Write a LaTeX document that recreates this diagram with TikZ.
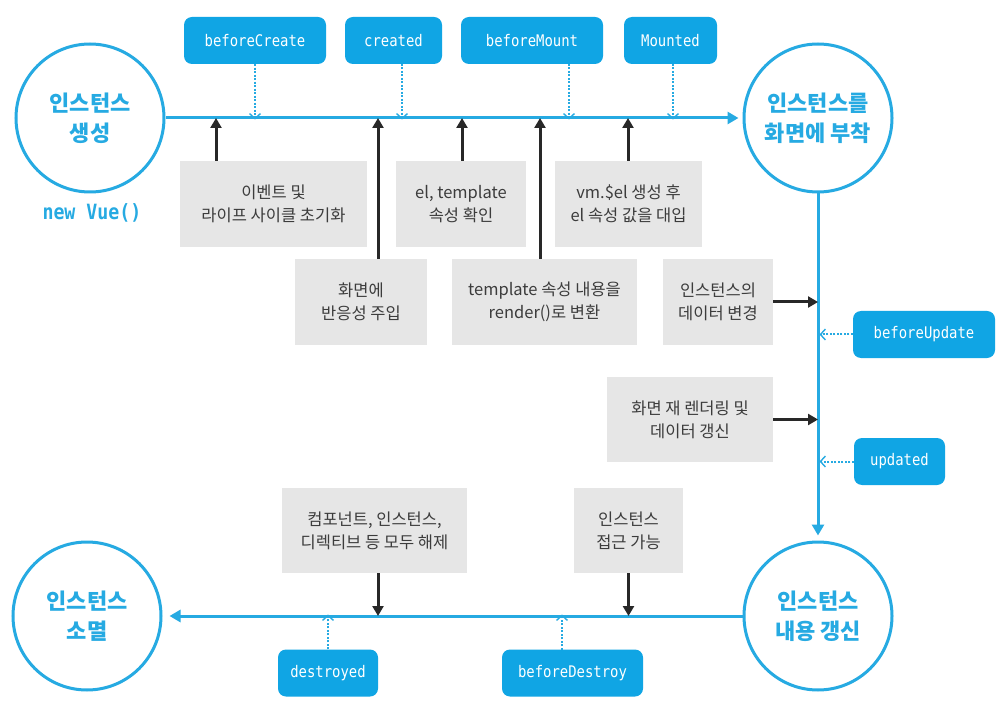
\documentclass[tikz,border=0pt]{standalone}
\usepackage{fontspec}
\setmainfont{Noto Sans CJK KR}
\newfontfamily\hookfont[FakeStretch=0.87]{DejaVu Sans Mono}
\usetikzlibrary{arrows.meta}
\definecolor{vblue}{RGB}{38,170,226}
\definecolor{hookblue}{RGB}{16,165,228}
\definecolor{boxgray}{RGB}{230,230,230}
\definecolor{txtgray}{RGB}{60,60,60}
\definecolor{arrblack}{RGB}{40,40,40}
\begin{document}
\begin{tikzpicture}[x=1pt,y=-1pt,
  state/.style={circle, draw=vblue, line width=3pt, minimum size=148pt, inner sep=0pt,
    align=center, text=vblue, font=\fontsize{22}{30}\selectfont\bfseries},
  hook/.style={rounded corners=8pt, fill=hookblue, text=white, minimum height=47pt,
    inner sep=0pt, font=\hookfont\fontsize{16}{18}\selectfont},
  info/.style={fill=boxgray, text=txtgray, align=center, inner sep=0pt,
    font=\fontsize{16.5}{23}\selectfont},
  newvue/.style={text=vblue, font=\hookfont\fontsize{21}{24}\selectfont\bfseries, inner sep=0pt},
  flow/.style={draw=vblue, line width=3pt, -{Triangle[width=12pt,length=11pt]}},
  blk/.style={draw=arrblack, line width=3pt, -{Triangle[width=11pt,length=10pt]}},
  hookarr/.style={draw=vblue, line width=2pt, dash pattern=on 2pt off 1.5pt,
    -{Straight Barb[length=5pt,width=11pt,line width=1.4pt]}}
]
\useasboundingbox[fill=white] (0,0) rectangle (1004,711);

% lifecycle states
\node[state] (c1) at (90,118) {인스턴스\\생성};
\node[state] (c2) at (818,118) {인스턴스를\\화면에 부착};
\node[state] (c4) at (818,616) {인스턴스\\내용 갱신};
\node[state] (c3) at (87,616) {인스턴스\\소멸};
\node[newvue] (nv) at (92,213) {new Vue()};

% main flow
\draw[flow, shorten >=4pt] (c1) -- (c2);
\draw[flow, shorten >=5pt] (c2) -- (c4);
\draw[flow, shorten >=7pt] (c4) -- (c3);

% hooks
\node[hook, minimum width=142pt] (bc) at (255,40.5) {beforeCreate};
\node[hook, minimum width=97pt] (cr) at (393.5,40.5) {created};
\node[hook, minimum width=142pt] (bm) at (532,40.5) {beforeMount};
\node[hook, minimum width=93pt] (mo) at (670.5,40.5) {Mounted};
\node[hook, minimum width=142pt] (bu) at (924,334.5) {beforeUpdate};
\node[hook, minimum width=91pt] (ud) at (899.5,461.5) {updated};
\node[hook, minimum width=100pt] (ds) at (328,673) {destroyed};
\node[hook, minimum width=141pt] (bd) at (572.5,673) {beforeDestroy};

% gray info boxes
\node[info, minimum width=187pt, minimum height=86pt] (g1) at (273.5,204) {이벤트 및\\라이프 사이클 초기화};
\node[info, minimum width=130pt, minimum height=86pt] (g2) at (461,204) {el, template\\속성 확인};
\node[info, minimum width=147pt, minimum height=86pt] (g3) at (628.5,204) {vm.\$el 생성 후\\el 속성 값을 대입};
\node[info, minimum width=132pt, minimum height=86pt] (g4) at (361,302) {화면에\\반응성 주입};
\node[info, minimum width=185pt, minimum height=86pt] (g5) at (544.5,302) {template 속성 내용을\\render()로 변환};
\node[info, minimum width=110pt, minimum height=86pt] (g6) at (718,302) {인스턴스의\\데이터 변경};
\node[info, minimum width=166pt, minimum height=85pt] (g7) at (690,419.5) {화면 재 렌더링 및\\데이터 갱신};
\node[info, minimum width=185pt, minimum height=85pt] (g8) at (374.5,530.5) {컴포넌트, 인스턴스,\\디렉티브 등 모두 해제};
\node[info, minimum width=109pt, minimum height=85pt] (g9) at (628.5,530.5) {인스턴스\\접근 가능};

% arrow start points
\coordinate (a1) at (216,161);
\coordinate (a2) at (462,161);
\coordinate (a3) at (628,161);
\coordinate (a4) at (378,259);
\coordinate (a5) at (540,259);
\coordinate (a8) at (378,573);
\coordinate (h2) at (402,64);
\coordinate (h3) at (569,64);
\coordinate (h4) at (673,64);
\coordinate (h8) at (562,649.5);

% black arrows (processing steps)
\draw[blk] (a1) -- (a1 |- c1.east);
\draw[blk] (a2) -- (a2 |- c1.east);
\draw[blk] (a3) -- (a3 |- c1.east);
\draw[blk] (a4) -- (a4 |- c1.east);
\draw[blk] (a5) -- (a5 |- c1.east);
\draw[blk] (g6.east) -- (g6.east -| c2.south);
\draw[blk] (g7.east) -- (g7.east -| c2.south);
\draw[blk] (a8) -- (a8 |- c3.east);
\draw[blk] (g9.south) -- (g9.south |- c3.east);

% dotted hook arrows
\draw[hookarr] (bc.south) -- ([yshift=-1.5pt]bc.south |- c1.east);
\draw[hookarr] (h2) -- ([yshift=-1.5pt]h2 |- c1.east);
\draw[hookarr] (h3) -- ([yshift=-1.5pt]h3 |- c1.east);
\draw[hookarr] (h4) -- ([yshift=-1.5pt]h4 |- c1.east);
\draw[hookarr] (bu.west) -- ([xshift=1.5pt]bu.west -| c2.south);
\draw[hookarr] (ud.west) -- ([xshift=1.5pt]ud.west -| c2.south);
\draw[hookarr] (ds.north) -- ([yshift=1.5pt]ds.north |- c3.east);
\draw[hookarr] (h8) -- ([yshift=1.5pt]h8 |- c3.east);
\end{tikzpicture}
\end{document}
